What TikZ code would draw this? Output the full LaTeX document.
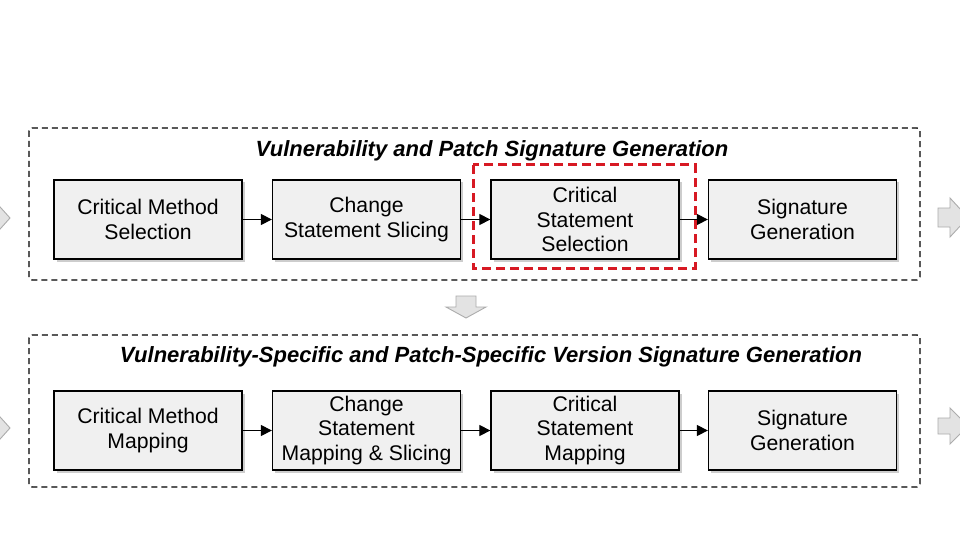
\documentclass[tikz,border=0pt]{standalone}
\usepackage{fontspec}
\setmainfont{Liberation Sans}
\usetikzlibrary{shadows,arrows.meta}
\tikzset{
  stage/.style={draw=black, line width=1.3pt, fill=gray!12, minimum width=188pt, minimum height=79pt,
    inner sep=0pt, align=center, font=\fontsize{21.2}{24.5}\selectfont,
    drop shadow={shadow xshift=2.5pt, shadow yshift=-2.5pt, fill=gray!55, opacity=0.7}},
  group/.style={draw=black, line width=1.4pt, dash pattern=on 6pt off 4pt, rounded corners=3pt},
  grouptitle/.style={font=\fontsize{22}{26}\selectfont\bfseries\itshape, inner sep=0pt},
  flow/.style={-{Triangle[length=11pt,width=11pt]}, line width=1.2pt, black},
  highlight/.style={draw={rgb,255:red,215;green,25;blue,35}, line width=3pt, dash pattern=on 9pt off 5pt},
  blockarrow/.style={fill=gray!22, draw=gray!65, line width=0.9pt}
}
\begin{document}
\begin{tikzpicture}[x=1pt,y=-1pt]
\useasboundingbox (0,0) rectangle (960,540);
\clip (0,0) rectangle (960,540);
\fill[white] (0,0) rectangle (960,540);

% group frames
\draw[group] (29,128) rectangle (920,280);
\draw[group] (29,335) rectangle (920,487);
\node[grouptitle] (t1) at (492,151) {Vulnerability and Patch Signature Generation};
\node[grouptitle] (t2) at (491,357) {Vulnerability-Specific and Patch-Specific Version Signature Generation};

% row 1
\node[stage] (a1) at (148,219.5) {Critical Method\\Selection};
\node[stage] (a2) at (366.5,219.5) {Change\\Statement Slicing};
\node[stage] (a3) at (585,219.5) {Critical\\Statement\\Selection};
\node[stage] (a4) at (802.5,219.5) {Signature\\Generation};
\draw[flow] (a1) -- (a2);
\draw[flow] (a2) -- (a3);
\draw[flow] (a3) -- (a4);
\draw[highlight] (473,165) rectangle (695,268);

% row 2
\node[stage] (b1) at (148,430.5) {Critical Method\\Mapping};
\node[stage] (b2) at (366.5,430.5) {Change\\Statement\\Mapping \& Slicing};
\node[stage] (b3) at (585,430.5) {Critical\\Statement\\Mapping};
\node[stage] (b4) at (802.5,430.5) {Signature\\Generation};
\draw[flow] (b1) -- (b2);
\draw[flow] (b2) -- (b3);
\draw[flow] (b3) -- (b4);

% gray block arrows
\draw[blockarrow] (456,296) -- (476,296) -- (476,307) -- (486,307) -- (466,318) -- (446,307) -- (456,307) -- cycle;
\draw[blockarrow] (938,208) -- (950,208) -- (950,198) -- (968,217.5) -- (950,237) -- (950,227) -- (938,227) -- cycle;
\draw[blockarrow] (938,418) -- (950,418) -- (950,408) -- (968,426) -- (950,444) -- (950,434) -- (938,434) -- cycle;
\draw[blockarrow] (-20,208) -- (-8,208) -- (-8,198) -- (10,218) -- (-8,238) -- (-8,228) -- (-20,228) -- cycle;
\draw[blockarrow] (-20,418) -- (-8,418) -- (-8,408) -- (10,428) -- (-8,448) -- (-8,438) -- (-20,438) -- cycle;
\end{tikzpicture}
\end{document}
